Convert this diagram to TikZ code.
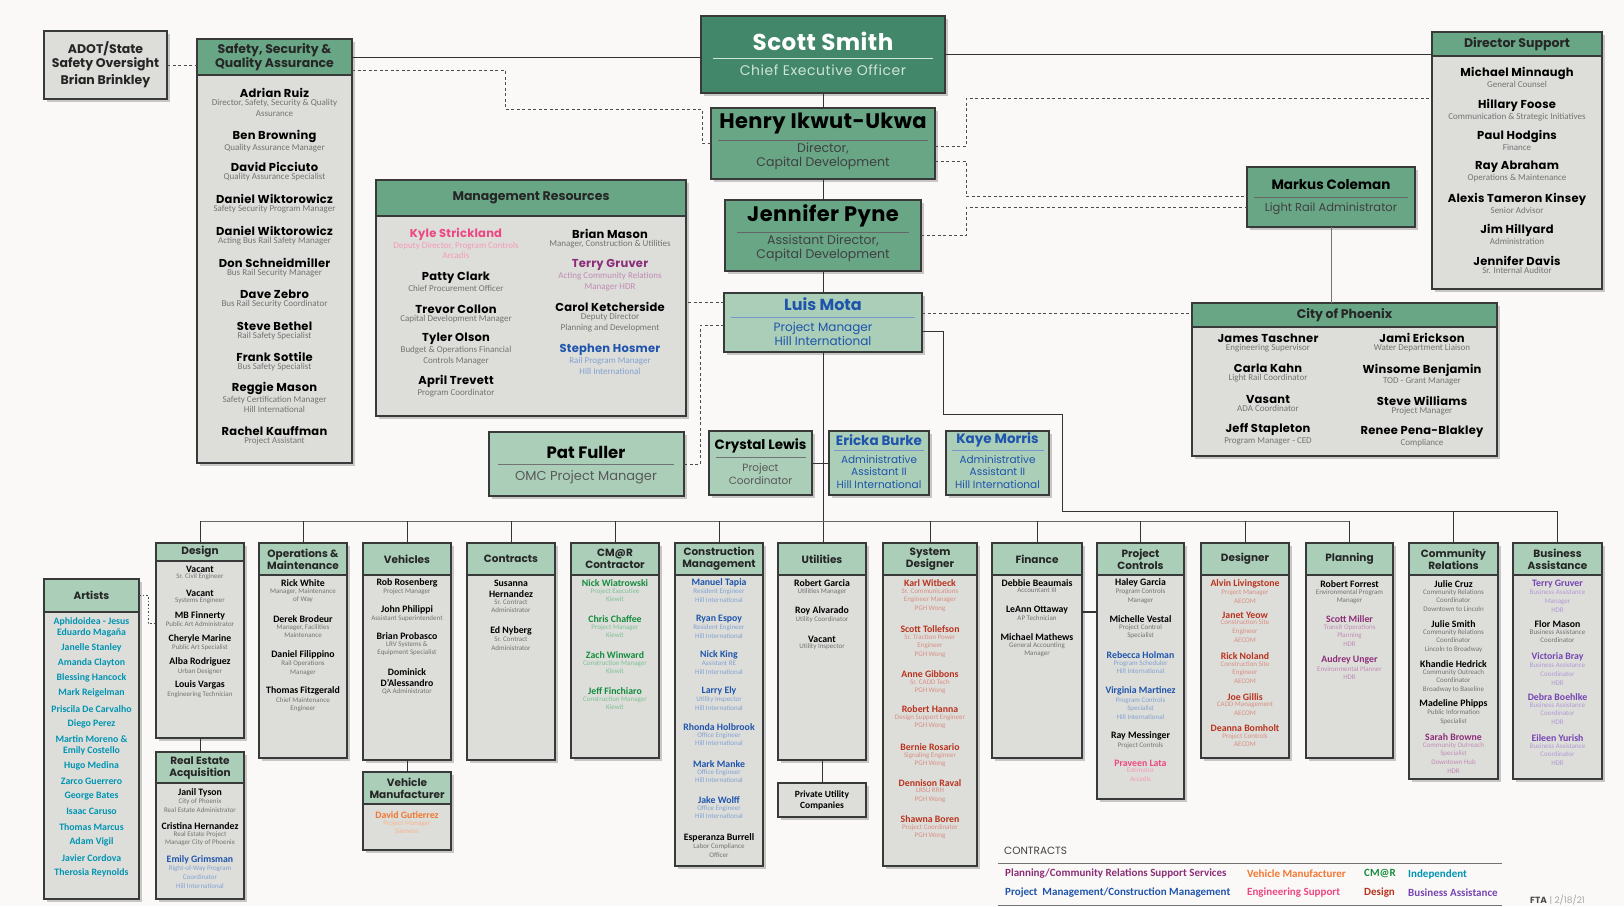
\documentclass[tikz,border=0pt]{standalone}
\usepackage{fontspec}
\setmainfont{Carlito}
\newfontfamily\geo{Poppins}
\usetikzlibrary{positioning,shadows}

\definecolor{paper}{RGB}{251,249,248}
\definecolor{dkgreen}{RGB}{66,135,105}
\definecolor{mdgreen}{RGB}{104,166,134}
\definecolor{ltgreen}{RGB}{170,206,184}
\definecolor{boxgray}{RGB}{221,222,218}
\definecolor{edge}{RGB}{55,58,56}
\definecolor{paleline}{RGB}{206,228,215}
\definecolor{hillblue}{RGB}{30,84,172}
\definecolor{hdrpurple}{RGB}{140,45,120}
\definecolor{arcpink}{RGB}{238,70,130}
\definecolor{kiewit}{RGB}{20,140,60}
\definecolor{siemens}{RGB}{242,118,48}
\definecolor{designred}{RGB}{185,50,30}
\definecolor{bizviolet}{RGB}{118,68,178}
\definecolor{artteal}{RGB}{0,148,178}

\newcommand\fnTop{\geo\bfseries\fontsize{11.5}{12.5}\selectfont\addfontfeature{LetterSpace=2}}
\newcommand\fnTopSub{\fontsize{9}{10.5}\selectfont}
\newcommand\fnHead{\geo\bfseries\fontsize{10.5}{12}\selectfont}
\newcommand\fnHeadTop{\geo\bfseries\fontsize{12.5}{13.5}\selectfont}
\newcommand\fnBot{\bfseries\fontsize{9.8}{11}\selectfont}
\newcommand\fnBotSub{\fontsize{7}{8.7}\selectfont}

\tikzset{
  panel/.style={draw=edge, line width=1.2pt, fill=boxgray, outer sep=0pt, inner sep=0pt,
    drop shadow={shadow xshift=2.5pt, shadow yshift=-2.5pt, fill=black!35, opacity=.6}},
  phead/.style={draw=edge, line width=1.2pt, outer sep=0pt, inner sep=0pt, align=center,
    text=black!85, font=\fnHead},
  boss/.style={panel, anchor=north west},
  bossname/.style={inner sep=0pt, align=center},
  bosssub/.style={inner sep=0pt, align=center},
  link/.style={draw=black!80, line width=1pt},
  dashlink/.style={draw=black!70, line width=1pt, dash pattern=on 3pt off 2.5pt},
  nmtop/.style={font=\fnTop, inner sep=0pt, align=center},
  sbtop/.style={font=\fnTopSub, inner sep=0pt, align=center},
  nmbot/.style={font=\fnBot, inner sep=0pt, align=center},
  sbbot/.style={font=\fnBotSub, inner sep=0pt, align=center},
  artname/.style={font=\bfseries\fontsize{9.8}{11}\selectfont, text=artteal, inner sep=0pt, align=center},
  legtxt/.style={anchor=west, font=\bfseries\fontsize{11}{12}\selectfont, inner sep=0pt},
  rule/.style={line width=0.6pt},
}

% panel with a header band: [header style]{name}{x0}{y0}{x1}{y1}{header bottom}{title}
\newcommand\panelbox[8][fill=ltgreen]{%
  \node[panel, anchor=north west, minimum width={(#5-#3)*1pt},
    minimum height={(#6-#4)*1pt}] (#2) at (#3,#4) {};
  \node[phead, #1, anchor=north west, minimum width={(#5-#3)*1pt},
    minimum height={(#7-#4)*1pt}] (#2-h) at (#3,#4) {#8};}

% one person: name and the title under it
\newcommand\staff[7]{%
  \node[nm#1, text=#5] (#2) at (#3,#4) {#6};
  \node[sb#1, text=#5!55!white, below=1.5pt of #2] (#2-s) {#7};}

\begin{document}
\begin{tikzpicture}[x=1pt,y=-1pt]
\fill[paper] (0,0) rectangle (1624,906);
\useasboundingbox (0,0) rectangle (1624,906);

% ---- top of the chart
\node[boss, fill=dkgreen, minimum width=244pt, minimum height=77pt] (scott) at (701,16) {};
\node[bossname, font=\geo\bfseries\fontsize{23}{26}\selectfont\addfontfeature{LetterSpace=2}, text=white] (scott-n) at (823,41) {Scott Smith};
\coordinate (scott-r) at (823,58);
\draw[paleline, rule] ([xshift=-110pt]scott-r) -- ([xshift=110pt]scott-r);
\node[bosssub, font=\geo\fontsize{14}{16}\selectfont\addfontfeature{LetterSpace=4}, text=paleline] (scott-t) at (823,70) {Chief Executive Officer};

\node[boss, fill=mdgreen, minimum width=224pt, minimum height=71pt] (henry) at (711,108) {};
\node[bossname, font=\geo\bfseries\fontsize{21}{24}\selectfont\addfontfeature{LetterSpace=2}] (henry-n) at (823,124) {Henry Ikwut-Ukwa};
\coordinate (henry-r) at (823,140);
\draw[black!60, rule] ([xshift=-105pt]henry-r) -- ([xshift=105pt]henry-r);
\node[bosssub, font=\geo\fontsize{12.5}{14}\selectfont, text=black!75] (henry-t) at (823,156) {Director,\\Capital Development};

\node[boss, fill=mdgreen, minimum width=196pt, minimum height=71pt] (jenn) at (725,200) {};
\node[bossname, font=\geo\bfseries\fontsize{21}{24}\selectfont\addfontfeature{LetterSpace=2}] (jenn-n) at (823,216) {Jennifer Pyne};
\coordinate (jenn-r) at (823,232);
\draw[black!60, rule] ([xshift=-86pt]jenn-r) -- ([xshift=86pt]jenn-r);
\node[bosssub, font=\geo\fontsize{12.5}{14}\selectfont, text=black!75] (jenn-t) at (823,248) {Assistant Director,\\Capital Development};

\node[boss, fill=ltgreen, minimum width=198pt, minimum height=59pt] (luis) at (724,293) {};
\node[bossname, font=\geo\bfseries\fontsize{16}{18}\selectfont, text=hillblue] (luis-n) at (823,304) {Luis Mota};
\coordinate (luis-r) at (823,317);
\draw[hillblue!60, rule] ([xshift=-92pt]luis-r) -- ([xshift=92pt]luis-r);
\node[bosssub, font=\geo\fontsize{12}{13.5}\selectfont, text=hillblue] (luis-t) at (823,334) {Project Manager\\Hill International};

\node[boss, fill=mdgreen, minimum width=168pt, minimum height=60pt] (markus) at (1247,167) {};
\node[bossname, font=\geo\bfseries\fontsize{13.5}{16}\selectfont] (markus-n) at (1331,185) {Markus Coleman};
\coordinate (markus-r) at (1331,197);
\draw[black!60, rule] ([xshift=-77pt]markus-r) -- ([xshift=77pt]markus-r);
\node[bosssub, font=\geo\fontsize{11.5}{13}\selectfont, text=black!75] (markus-t) at (1331,209) {Light Rail Administrator};

\node[boss, minimum width=123pt, minimum height=68pt, align=center,
  font=\geo\bfseries\fontsize{12.5}{14}\selectfont, text=black!85] (adot) at (44,31) {ADOT/State\\Safety Oversight\\[3pt]Brian Brinkley};

% ---- staff panels up top
\panelbox[fill=mdgreen, font=\fnHeadTop]{safety}{197}{39}{352}{463}{75}{Safety, Security \&\\Quality Assurance}
\foreach \yy/\nn/\ss [count=\i] in {
  93/{Adrian Ruiz}/{Director, Safety, Security \& Quality\\Assurance},
  136/{Ben Browning}/{Quality Assurance Manager},
  167/{David Picciuto}/{Quality Assurance Specialist},
  199/{Daniel Wiktorowicz}/{Safety Security Program Manager},
  231/{Daniel Wiktorowicz}/{Acting Bus Rail Safety Manager},
  263/{Don Schneidmiller}/{Bus Rail Security Manager},
  294/{Dave Zebro}/{Bus Rail Security Coordinator},
  326/{Steve Bethel}/{Rail Safety Specialist},
  357/{Frank Sottile}/{Bus Safety Specialist},
  388/{Reggie Mason}/{Safety Certification Manager\\Hill International},
  431/{Rachel Kauffman}/{Project Assistant}}
  {\staff{top}{sq\i}{274.5}{\yy}{black}{\nn}{\ss}}

\panelbox[fill=mdgreen, font=\fnHeadTop]{mres}{376}{180}{686}{416}{216}{Management Resources}
\foreach \yy/\cc/\nn/\ss [count=\i] in {
  234/arcpink/{Kyle Strickland}/{Deputy Director, Program Controls\\Arcadis},
  278/black/{Patty Clark}/{Chief Procurement Officer},
  309/black/{Trevor Collon}/{Capital Development Manager},
  339/black/{Tyler Olson}/{Budget \& Operations Financial\\Controls Manager},
  381/black/{April Trevett}/{Program Coordinator}}
  {\staff{top}{mrl\i}{456}{\yy}{\cc}{\nn}{\ss}}
\foreach \yy/\cc/\nn/\ss [count=\i] in {
  234/black/{Brian Mason}/{Manager, Construction \& Utilities},
  265/hdrpurple/{Terry Gruver}/{Acting Community Relations\\Manager HDR},
  307/black/{Carol Ketcherside}/{Deputy Director\\Planning and Development},
  350/hillblue/{Stephen Hosmer}/{Rail Program Manager\\Hill International}}
  {\staff{top}{mrr\i}{610}{\yy}{\cc}{\nn}{\ss}}

\panelbox[fill=mdgreen, font=\fnHeadTop]{dsup}{1432}{32}{1602}{289}{56}{Director Support}
\foreach \yy/\nn/\ss [count=\i] in {
  73/{Michael Minnaugh}/{General Counsel},
  105/{Hillary Foose}/{Communication \& Strategic Initiatives},
  136/{Paul Hodgins}/{Finance},
  167/{Ray Abraham}/{Operations \& Maintenance},
  199/{Alexis Tameron Kinsey}/{Senior Advisor},
  230/{Jim Hillyard}/{Administration},
  261/{Jennifer Davis}/{Sr. Internal Auditor}}
  {\staff{top}{ds\i}{1517}{\yy}{black}{\nn}{\ss}}

\panelbox[fill=mdgreen, font=\fnHeadTop]{city}{1192}{303}{1497}{456}{327}{City of Phoenix}
\foreach \yy/\nn/\ss [count=\i] in {
  338/{James Taschner}/{Engineering Supervisor},
  368/{Carla Kahn}/{Light Rail Coordinator},
  399/{Vasant}/{ADA Coordinator},
  430/{Jeff Stapleton}/{Program Manager - CED}}
  {\staff{top}{cpl\i}{1268}{\yy}{black}{\nn}{\ss}}
\foreach \yy/\nn/\ss [count=\i] in {
  338/{Jami Erickson}/{Water Department Liaison},
  370/{Winsome Benjamin}/{TOD - Grant Manager},
  401/{Steve Williams}/{Project Manager},
  432/{Renee Pena-Blakley}/{Compliance}}
  {\staff{top}{cpr\i}{1422}{\yy}{black}{\nn}{\ss}}

% ---- middle row
\node[boss, fill=ltgreen, minimum width=195pt, minimum height=64pt] (pat) at (489,432) {};
\node[bossname, font=\geo\bfseries\fontsize{16.5}{19}\selectfont] (pat-n) at (586,452) {Pat Fuller};
\coordinate (pat-r) at (586,464);
\draw[black!55, rule] ([xshift=-88pt]pat-r) -- ([xshift=88pt]pat-r);
\node[bosssub, font=\geo\fontsize{13}{15}\selectfont, text=black!65] (pat-t) at (586,477) {OMC Project Manager};

\node[boss, fill=ltgreen, minimum width=103pt, minimum height=64pt] (crys) at (709,431) {};
\node[bossname, font=\geo\bfseries\fontsize{13.5}{16}\selectfont] (crys-n) at (760.5,446) {Crystal Lewis};
\coordinate (crys-r) at (760.5,457);
\draw[black!55, rule] ([xshift=-45pt]crys-r) -- ([xshift=45pt]crys-r);
\node[bosssub, font=\geo\fontsize{10.5}{13}\selectfont, text=black!65] (crys-t) at (760.5,474) {Project\\Coordinator};

\node[boss, fill=ltgreen, minimum width=100pt, minimum height=64pt] (eric) at (829,431) {};
\node[bossname, font=\geo\bfseries\fontsize{13.5}{16}\selectfont, text=hillblue] (eric-n) at (879,440) {Ericka Burke};
\coordinate (eric-r) at (879,450);
\draw[hillblue!60, rule] ([xshift=-45pt]eric-r) -- ([xshift=45pt]eric-r);
\node[bosssub, font=\geo\fontsize{10.5}{12.5}\selectfont, text=hillblue] (eric-t) at (879,472) {Administrative\\Assistant II\\Hill International};

\node[boss, fill=ltgreen, minimum width=103pt, minimum height=64pt] (kaye) at (946,431) {};
\node[bossname, font=\geo\bfseries\fontsize{13.5}{16}\selectfont, text=hillblue] (kaye-n) at (997.5,440) {Kaye Morris};
\coordinate (kaye-r) at (997.5,450);
\draw[hillblue!60, rule] ([xshift=-46pt]kaye-r) -- ([xshift=46pt]kaye-r);
\node[bosssub, font=\geo\fontsize{10.5}{12.5}\selectfont, text=hillblue] (kaye-t) at (997.5,472) {Administrative\\Assistant II\\Hill International};

% ---- departments
\panelbox{artists}{44}{579}{139}{899}{612}{Artists}
\foreach \yy/\nn [count=\i] in {
  627/{Aphidoidea - Jesus\\Eduardo Magaña}, 648/{Janelle Stanley}, 663/{Amanda Clayton},
  678/{Blessing Hancock}, 693/{Mark Reigelman}, 709/{Priscila De Carvalho},
  724/{Diego Perez}, 745/{Martin Moreno \&\\Emily Costello}, 766/{Hugo Medina},
  781/{Zarco Guerrero}, 796/{George Bates}, 811/{Isaac Caruso}, 827/{Thomas Marcus},
  842/{Adam Vigil}, 858/{Javier Cordova}, 873/{Therosia Reynolds}}
  {\node[artname] (art\i) at (91.5,\yy) {\nn};}

\panelbox{design}{156}{543}{244}{738}{561}{Design}
\foreach \yy/\nn/\ss [count=\i] in {
  569/{Vacant}/{Sr. Civil Engineer}, 593/{Vacant}/{Systems Engineer},
  616/{MB Finnerty}/{Public Art Administrator}, 639/{Cheryle Marine}/{Public Art Specialist},
  662/{Alba Rodriguez}/{Urban Designer}, 685/{Louis Vargas}/{Engineering Technician}}
  {\staff{bot}{des\i}{200}{\yy}{black}{\nn}{\ss}}

\panelbox{reale}{156}{752}{244}{899}{783}{Real Estate\\Acquisition}
\foreach \yy/\cc/\nn/\ss [count=\i] in {
  793/black/{Janil Tyson}/{City of Phoenix\\Real Estate Administrator},
  826/black/{Cristina Hernandez}/{Real Estate Project\\Manager City of Phoenix},
  860/hillblue/{Emily Grimsman}/{Right-of-Way Program\\Coordinator\\Hill International}}
  {\staff{bot}{re\i}{200}{\yy}{\cc}{\nn}{\ss}}

\panelbox{ops}{259}{543}{347}{758}{575}{Operations \&\\Maintenance}
\foreach \yy/\nn/\ss [count=\i] in {
  583/{Rick White}/{Manager, Maintenance\\of Way},
  619/{Derek Brodeur}/{Manager, Facilities\\Maintenance},
  655/{Daniel Filippino}/{Rail Operations\\Manager},
  691/{Thomas Fitzgerald}/{Chief Maintenance\\Engineer}}
  {\staff{bot}{om\i}{303}{\yy}{black}{\nn}{\ss}}

\panelbox{veh}{363}{543}{451}{760}{575}{Vehicles}
\foreach \yy/\nn/\ss [count=\i] in {
  583/{Rob Rosenberg}/{Project Manager},
  610/{John Philippi}/{Assistant Superintendent},
  636/{Brian Probasco}/{LRV Systems \&\\Equipment Specialist},
  678/{Dominick\\D'Alessandro}/{QA Administrator}}
  {\staff{bot}{vh\i}{407}{\yy}{black}{\nn}{\ss}}

\panelbox{vmfr}{363}{772}{451}{850}{804}{Vehicle\\Manufacturer}
\staff{bot}{vm1}{407}{815}{siemens}{David Gutierrez}{Project Manager\\Siemens}

\panelbox{contr}{467}{543}{555}{760}{575}{Contracts}
\foreach \yy/\nn/\ss [count=\i] in {
  589/{Susanna\\Hernandez}/{Sr. Contract\\Administrator},
  631/{Ed Nyberg}/{Sr. Contract\\Administrator}}
  {\staff{bot}{ct\i}{511}{\yy}{black}{\nn}{\ss}}

\panelbox{cmar}{571}{543}{659}{758}{575}{CM@R\\Contractor}
\foreach \yy/\nn/\ss [count=\i] in {
  583/{Nick Wiatrowski}/{Project Executive\\Kiewit},
  619/{Chris Chaffee}/{Project Manager\\Kiewit},
  655/{Zach Winward}/{Construction Manager\\Kiewit},
  691/{Jeff Finchiaro}/{Construction Manager\\Kiewit}}
  {\staff{bot}{cr\i}{615}{\yy}{kiewit}{\nn}{\ss}}

\panelbox{cm}{675}{543}{763}{866}{575}{Construction\\Management}
\foreach \yy/\cc/\nn/\ss [count=\i] in {
  583/hillblue/{Manuel Tapia}/{Resident Engineer\\Hill International},
  619/hillblue/{Ryan Espoy}/{Resident Engineer\\Hill International},
  655/hillblue/{Nick King}/{Assistant RE\\Hill International},
  691/hillblue/{Larry Ely}/{Utility Inspector\\Hill International},
  727/hillblue/{Rhonda Holbrook}/{Office Engineer\\Hill International},
  764/hillblue/{Mark Manke}/{Office Engineer\\Hill International},
  800/hillblue/{Jake Wolff}/{Office Engineer\\Hill International},
  838/black/{Esperanza Burrell}/{Labor Compliance\\Officer}}
  {\staff{bot}{cmg\i}{719}{\yy}{\cc}{\nn}{\ss}}

\panelbox{util}{778}{543}{866}{760}{575}{Utilities}
\foreach \yy/\nn/\ss [count=\i] in {
  583/{Robert Garcia}/{Utilities Manager},
  611/{Roy Alvarado}/{Utility Coordinator},
  639/{Vacant}/{Utility Inspector}}
  {\staff{bot}{ut\i}{822}{\yy}{black}{\nn}{\ss}}
\node[panel, anchor=north west, minimum width=88pt, minimum height=34pt, align=center,
  font=\bfseries\fontsize{9.5}{11}\selectfont] (priv) at (778,783) {Private Utility\\Companies};

\panelbox{sysd}{883}{543}{977}{866}{575}{System\\Designer}
\foreach \yy/\nn/\ss [count=\i] in {
  583/{Karl Witbeck}/{Sr. Communications\\Engineer Manager\\PGH Wong},
  629/{Scott Tollefson}/{Sr. Traction Power\\Engineer\\PGH Wong},
  674/{Anne Gibbons}/{Sr. CADD Tech\\PGH Wong},
  709/{Robert Hanna}/{Design Support Engineer\\PGH Wong},
  747/{Bernie Rosario}/{Signaling Engineer\\PGH Wong},
  783/{Dennison Raval}/{LRSU RRH\\PGH Wong},
  819/{Shawna Boren}/{Project Coordinator\\PGH Wong}}
  {\staff{bot}{sd\i}{930}{\yy}{designred}{\nn}{\ss}}

\panelbox{fin}{992}{543}{1082}{758}{575}{Finance}
\foreach \yy/\nn/\ss [count=\i] in {
  583/{Debbie Beaumais}/{Accountant III},
  610/{LeAnn Ottaway}/{AP Technician},
  637/{Michael Mathews}/{General Accounting\\Manager}}
  {\staff{bot}{fn\i}{1037}{\yy}{black}{\nn}{\ss}}

\panelbox{pc}{1097}{543}{1184}{799}{575}{Project\\Controls}
\foreach \yy/\cc/\nn/\ss [count=\i] in {
  583/black/{Haley Garcia}/{Program Controls\\Manager},
  619/black/{Michelle Vestal}/{Project Control\\Specialist},
  655/hillblue/{Rebecca Holman}/{Program Scheduler\\Hill International},
  691/hillblue/{Virginia Martinez}/{Program Controls\\Specialist\\Hill International},
  736/black/{Ray Messinger}/{Project Controls},
  763/arcpink/{Praveen Lata}/{Estimator\\Arcadis}}
  {\staff{bot}{pcs\i}{1140.5}{\yy}{\cc}{\nn}{\ss}}

\panelbox{dsgn}{1201}{543}{1289}{758}{575}{Designer}
\foreach \yy/\nn/\ss [count=\i] in {
  584/{Alvin Livingstone}/{Project Manager\\AECOM},
  615/{Janet Yeow}/{Construction Site\\Engineer\\AECOM},
  656/{Rick Noland}/{Construction Site\\Engineer\\AECOM},
  697/{Joe Gillis}/{CADD Management\\AECOM},
  728/{Deanna Bomholt}/{Project Controls\\AECOM}}
  {\staff{bot}{dg\i}{1245}{\yy}{designred}{\nn}{\ss}}

\panelbox{plan}{1306}{543}{1393}{758}{575}{Planning}
\foreach \yy/\cc/\nn/\ss [count=\i] in {
  584/black/{Robert Forrest}/{Environmental Program\\Manager},
  619/hdrpurple/{Scott Miller}/{Transit Operations\\Planning\\HDR},
  660/hdrpurple/{Audrey Unger}/{Environmental Planner\\HDR}}
  {\staff{bot}{pl\i}{1349.5}{\yy}{\cc}{\nn}{\ss}}

\panelbox{comm}{1409}{543}{1498}{779}{575}{Community\\Relations}
\foreach \yy/\cc/\nn/\ss [count=\i] in {
  584/black/{Julie Cruz}/{Community Relations\\Coordinator\\Downtown to Lincoln},
  624/black/{Julie Smith}/{Community Relations\\Coordinator\\Lincoln to Broadway},
  664/black/{Khandie Hedrick}/{Community Outreach\\Coordinator\\Broadway to Baseline},
  704/black/{Madeline Phipps}/{Public Information\\Specialist},
  737/hdrpurple/{Sarah Browne}/{Community Outreach\\Specialist\\Downtown Hub\\HDR}}
  {\staff{bot}{crl\i}{1453.5}{\yy}{\cc}{\nn}{\ss}}

\panelbox{busi}{1513}{543}{1602}{779}{575}{Business\\Assistance}
\foreach \yy/\cc/\nn/\ss [count=\i] in {
  584/bizviolet/{Terry Gruver}/{Business Assistance\\Manager\\HDR},
  624/black/{Flor Mason}/{Business Assistance\\Coordinator},
  657/bizviolet/{Victoria Bray}/{Business Assistance\\Coordinator\\HDR},
  697/bizviolet/{Debra Boehlke}/{Business Assistance\\Coordinator\\HDR},
  738/bizviolet/{Eileen Yurish}/{Business Assistance\\Coordinator\\HDR}}
  {\staff{bot}{ba\i}{1557.5}{\yy}{\cc}{\nn}{\ss}}

% ---- reporting lines
\coordinate (sqa) at (505,70);
\coordinate (sqb) at (702,109);
\coordinate (ra) at (966,98);
\coordinate (rb) at (966,196);
\coordinate (rc) at (966,207);
\coordinate (pd) at (700,325);
\coordinate (la) at (943,414);
\coordinate (lb) at (1062,511);
\coordinate (bus) at (0,521);
\coordinate (art-j) at (148,623);

\draw[link] (safety-h.east) -- (safety-h.east -| scott.west);
\draw[link] (scott.east) -- (scott.east -| dsup.west);
\draw[link] (scott) -- (henry);
\draw[link] (henry) -- (jenn);
\draw[link] (jenn) -- (luis);
\draw[dashlink] (adot.east) -- (adot.east -| safety.west);
\draw[dashlink] (safety.east |- sqa) -- (sqa) |- (sqb) |- (henry.west);
\draw[dashlink] ([yshift=-2.5pt]henry.east) -| (ra) -- (ra -| dsup.west);
\draw[dashlink] ([yshift=-17.5pt]henry.east) -| (rb) -- (rb -| markus.west);
\draw[dashlink] (jenn.east) -| (rc) -- (rc -| markus.west);
\draw[dashlink] ([yshift=9.5pt]luis.east) -- ([yshift=9.5pt]luis.east -| city.west);
\draw[dashlink] ([yshift=20.5pt]luis.west) -- ([yshift=20.5pt]luis.west -| mres.east);
\draw[dashlink] (luis.west |- pd) -- (pd) |- (pat.east);
\draw[link, black!55] (markus.south) -- (markus.south |- city.north);

\draw[link] (luis.south) -- (luis.south |- util.north);
\draw[link] (crys.east) -- (eric.west);
\draw[link] ([yshift=-8.5pt]luis.east) -| (la) -| (lb) -| (busi.north);
\draw[link] (comm.north) -- (comm.north |- lb);
\draw[link, black!60] (design.north |- bus) -- (plan.north |- bus);
\foreach \d in {design,ops,veh,contr,cmar,cm,sysd,fin,pc,dsgn,plan}
  \draw[link] (\d.north |- bus) -- (\d.north);
\draw[link] (design) -- (reale);
\draw[link] (veh) -- (vmfr);
\draw[link] (util) -- (priv);
\draw[link, line width=2pt] ([yshift=38.5pt]fin.east) -- ([yshift=38.5pt]fin.east -| pc.west);
\draw[dashlink, dash pattern=on 1.5pt off 2pt] (artists-h.east) -| (art-j) -- (art-j -| design.west);

% ---- contracts key
\node[anchor=west, inner sep=0pt, font=\geo\fontsize{10.5}{12}\selectfont, text=black!75] (key) at (1004,851) {CONTRACTS};
\coordinate (key-a) at (998,863);
\coordinate (key-b) at (1502,863);
\coordinate (key-c) at (998,905);
\coordinate (key-d) at (1502,905);
\draw[black!55, line width=1pt] (key-a) -- (key-b);
\draw[black!55, line width=1pt] (key-c) -- (key-d);
\foreach \xx/\yy/\cc/\lbl [count=\i] in {
  1005/874/hdrpurple/{Planning/Community Relations Support Services},
  1247/874/siemens/{Vehicle Manufacturer},
  1364/874/kiewit/{CM@R},
  1408/874/artteal/{Independent},
  1005/893/hillblue/{Project\ \ Management/Construction Management},
  1247/893/arcpink/{Engineering Support},
  1364/893/designred/{Design},
  1408/893/bizviolet/{Business Assistance}}
  {\node[legtxt, text=\cc] (key\i) at (\xx,\yy) {\lbl};}
\node[anchor=west, inner sep=0pt, font=\geo\fontsize{9}{10}\selectfont, text=black!70] (fta) at (1530,900) {\textbf{FTA} \textcolor{black!35}{| 2/18/21}};
\end{tikzpicture}
\end{document}
